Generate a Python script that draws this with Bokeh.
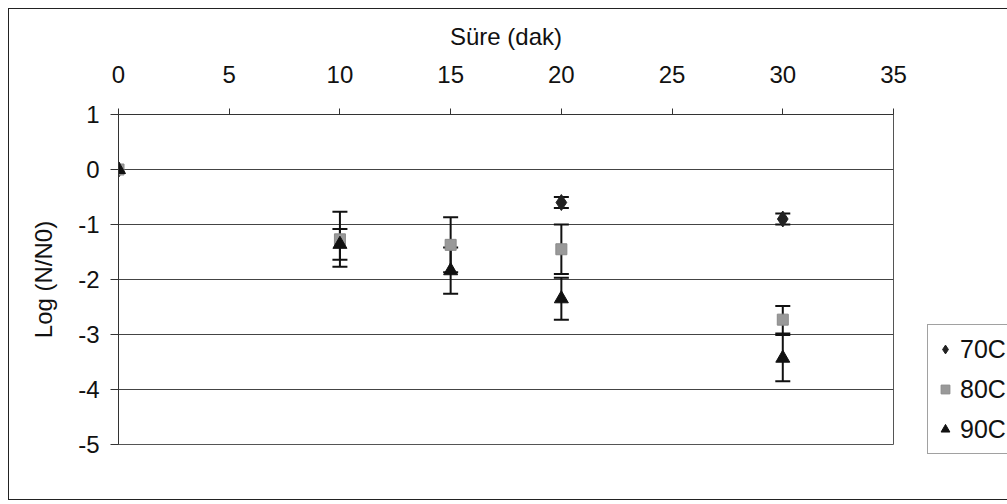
from bokeh.plotting import figure
from bokeh.models import ColumnDataSource, Whisker, TeeHead, Legend, LegendItem, FixedTicker
from bokeh.embed import file_html
from bokeh.resources import INLINE

# ---- data ----
t70 = [0, 20, 30]
y70 = [0.0, -0.6, -0.9]
e70 = [0.0, 0.1, 0.1]

t80 = [0, 10, 15, 20, 30]
y80 = [0.0, -1.27, -1.37, -1.45, -2.73]
e80 = [0.0, 0.5, 0.5, 0.45, 0.25]

t90 = [0, 10, 15, 20, 30]
y90 = [0.0, -1.36, -1.84, -2.35, -3.43]
e90 = [0.0, 0.28, 0.42, 0.38, 0.42]

x_ticks = [0, 5, 10, 15, 20, 25, 30, 35]
y_ticks = [1, 0, -1, -2, -3, -4, -5]
series_names = ["70C", "80C", "90C"]

FONT = "Liberation Sans"
FS = "24px"

p = figure(frame_width=775, frame_height=330, x_range=(0, 35), y_range=(-5, 1),
           output_backend="svg", toolbar_location=None,
           x_axis_location="above",
           min_border_left=109, min_border_top=105, min_border_right=115, min_border_bottom=55,
           margin=(8, 0, 0, 8))
p.styles = {"border-left": "1px solid #222", "border-top": "1px solid #222",
            "border-bottom": "1px solid #222"}

p.outline_line_color = "#555"
p.outline_line_width = 1
p.xgrid.visible = False
p.ygrid.grid_line_color = "#444"
p.ygrid.grid_line_width = 1
p.ygrid.ticker = FixedTicker(ticks=y_ticks)

p.xaxis.ticker = FixedTicker(ticks=x_ticks)
p.yaxis.ticker = FixedTicker(ticks=y_ticks)
p.yaxis.major_label_overrides = {v: str(v) for v in y_ticks}
p.xaxis.axis_label = "Süre (dak)"
p.yaxis.axis_label = "Log (N/N0)"
for ax in (p.xaxis[0], p.yaxis[0]):
    ax.axis_line_color = "#333"
    ax.major_tick_line_color = "#333"
    ax.minor_tick_line_color = None
    ax.major_tick_in = 0
    ax.major_label_text_font = FONT
    ax.major_label_text_font_size = FS
    ax.major_label_text_color = "#111"
    ax.axis_label_text_font = FONT
    ax.axis_label_text_font_size = FS
    ax.axis_label_text_font_style = "normal"
    ax.axis_label_text_color = "#111"
p.xaxis.major_tick_out = 6
p.yaxis.major_tick_out = 8
p.xaxis.major_label_standoff = 26
p.xaxis.axis_label_standoff = 13
p.yaxis.major_label_standoff = 11
p.yaxis.axis_label_standoff = 18

def add_whisker(t, y, e):
    xs = [a for a, d in zip(t, e) if d > 0]
    up = [b + d for b, d in zip(y, e) if d > 0]
    lo = [b - d for b, d in zip(y, e) if d > 0]
    src = ColumnDataSource(dict(x=xs, upper=up, lower=lo))
    w = Whisker(source=src, base="x", upper="upper", lower="lower", dimension="height",
                line_color="#111", line_width=2,
                upper_head=TeeHead(size=15, line_color="#111", line_width=2),
                lower_head=TeeHead(size=15, line_color="#111", line_width=2))
    p.add_layout(w)

add_whisker(t70, y70, e70)
add_whisker(t80, y80, e80)
add_whisker(t90, y90, e90)

r70 = p.scatter(t70, y70, marker="diamond", size=16, fill_color="#222", line_color="#222")
r80 = p.scatter(t80, y80, marker="square", size=11, fill_color="#999", line_color="#8a8a8a")
r90 = p.scatter(t90, y90, marker="triangle", size=14, fill_color="#111", line_color="#111")

legend = Legend(items=[LegendItem(label=series_names[0], renderers=[r70]),
                       LegendItem(label=series_names[1], renderers=[r80]),
                       LegendItem(label=series_names[2], renderers=[r90])],
                location=(34, -10))
legend.label_text_font = FONT
legend.label_text_font_size = "25px"
legend.label_text_color = "#111"
legend.glyph_width = 22
legend.glyph_height = 22
legend.label_standoff = 4
legend.label_height = 36
legend.spacing = 4
legend.padding = 6
legend.margin = 0
legend.border_line_color = "#444"
legend.border_line_width = 1
legend.background_fill_color = "white"
legend.background_fill_alpha = 1
p.add_layout(legend, "right")

open("out.html", "w").write(file_html(p, INLINE))
